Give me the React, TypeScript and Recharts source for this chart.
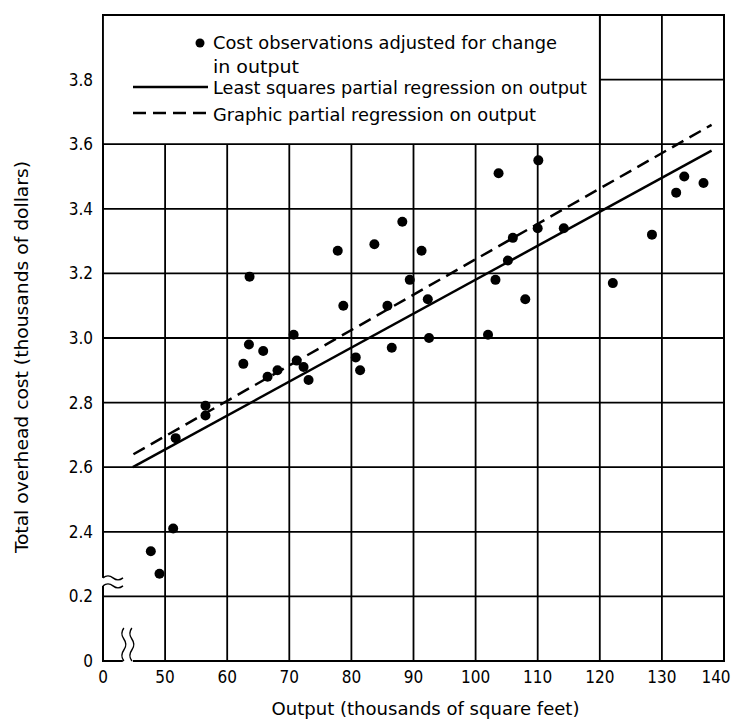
import React from "react";
import {
  ComposedChart, Scatter, Line, XAxis, YAxis, CartesianGrid,
  ReferenceArea, ReferenceDot, Label,
} from "recharts";

// cost observations (output in thousands of sq ft, cost in thousands of $)
const obsOutput = [
  47.7, 49.1, 51.3, 51.7, 56.5, 56.5, 62.6, 63.5, 63.6, 65.8,
  66.5, 68.1, 70.7, 71.2, 72.3, 73.1, 77.8, 78.7, 80.7, 81.4,
  83.7, 85.8, 86.5, 88.2, 89.4, 91.3, 92.3, 92.5, 102.0, 103.2,
  103.7, 105.2, 106.0, 108.0, 110.0, 110.1, 114.2, 122.1, 128.4, 132.3,
  133.6, 136.7,
];
const obsCost = [
  2.34, 2.27, 2.41, 2.69, 2.79, 2.76, 2.92, 2.98, 3.19, 2.96,
  2.88, 2.9, 3.01, 2.93, 2.91, 2.87, 3.27, 3.1, 2.94, 2.9,
  3.29, 3.1, 2.97, 3.36, 3.18, 3.27, 3.12, 3.0, 3.01, 3.18,
  3.51, 3.24, 3.31, 3.12, 3.34, 3.55, 3.34, 3.17, 3.32, 3.45,
  3.5, 3.48,
];

// regression lines (end points)
const lsOutput = [44.8, 138];
const lsCost = [2.6, 3.58];
const graphicOutput = [44.9, 138];
const graphicCost = [2.64, 3.66];

// broken axes: 40 on the x scale is labelled 0, 2.0 / 2.2 on the y scale are labelled 0 / 0.2
const xTicks = [40, 50, 60, 70, 80, 90, 100, 110, 120, 130, 140];
const xTickLabels = ["0", "50", "60", "70", "80", "90", "100", "110", "120", "130", "140"];
const yTicks = [2.0, 2.2, 2.4, 2.6, 2.8, 3.0, 3.2, 3.4, 3.6, 3.8];
const yTickLabels = ["0", "0.2", "2.4", "2.6", "2.8", "3.0", "3.2", "3.4", "3.6", "3.8"];

const legendLabels = [
  "Cost observations adjusted for change",
  "in output",
  "Least squares partial regression on output",
  "Graphic partial regression on output",
];

const FONT = "'DejaVu Sans Condensed', 'Liberation Sans Narrow', 'DejaVu Sans', sans-serif";
const TICK = { fill: "#000", fontSize: 17, fontFamily: FONT };

const points = obsOutput.map((x, i) => ({ x, y: obsCost[i] }));
const lsLine = lsOutput.map((x, i) => ({ x, y: lsCost[i] }));
const graphicLine = graphicOutput.map((x, i) => ({ x, y: graphicCost[i] }));

function XTick(props: any) {
  const { x, y, payload } = props;
  const v = payload.value;
  const i = xTicks.indexOf(v);
  // last label sits a little left of its line so it stays on the page
  const shift = i === xTicks.length - 1 ? -8 : 0;
  return (
    <text x={x + shift} y={y} dy="0.71em" textAnchor="middle" {...TICK}>
      {i >= 0 ? xTickLabels[i] : String(v)}
    </text>
  );
}

function LegendBox(props: any) {
  const vb = props.viewBox;
  if (!vb) return null;
  const { x, y } = vb;
  const txt = { fontFamily: FONT, fontSize: 17, fill: "#000" };
  return (
    <g>
      <circle cx={x + 97} cy={y + 28} r={4.5} fill="#000" />
      <text x={x + 110} y={y + 28} dominantBaseline="central" textLength={344} lengthAdjust="spacingAndGlyphs" {...txt}>
        {legendLabels[0]}
      </text>
      <text x={x + 110} y={y + 52} dominantBaseline="central" textLength={86} lengthAdjust="spacingAndGlyphs" {...txt}>
        {legendLabels[1]}
      </text>
      <line x1={x + 30} x2={x + 105} y1={y + 72} y2={y + 72} stroke="#000" strokeWidth={2.5} />
      <text x={x + 110} y={y + 73} dominantBaseline="central" textLength={374} lengthAdjust="spacingAndGlyphs" {...txt}>
        {legendLabels[2]}
      </text>
      <line x1={x + 30} x2={x + 105} y1={y + 98} y2={y + 98} stroke="#000" strokeWidth={2.5} strokeDasharray="13 7" />
      <text x={x + 110} y={y + 100} dominantBaseline="central" textLength={323} lengthAdjust="spacingAndGlyphs" {...txt}>
        {legendLabels[3]}
      </text>
    </g>
  );
}

// wavy break on the cost axis
function LeftBreak(p: any) {
  const { cx, cy } = p;
  return (
    <g fill="none" stroke="#000" strokeWidth={1.4}>
      <rect x={cx - 3} y={cy - 4} width={6} height={8} fill="#fff" stroke="none" />
      <path d={`M${cx} ${cy - 4} q5 -4 10 0 t10 0`} />
      <path d={`M${cx} ${cy + 4} q5 -4 10 0 t10 0`} />
    </g>
  );
}

// wavy break on the output axis
function BottomBreak(p: any) {
  const { cx, cy } = p;
  return (
    <g fill="none" stroke="#000" strokeWidth={1.4}>
      <rect x={cx - 5} y={cy - 3} width={10} height={6} fill="#fff" stroke="none" />
      <path d={`M${cx - 4} ${cy} q-4 -5.5 0 -11 t0 -11 t0 -11`} />
      <path d={`M${cx + 4} ${cy} q-4 -5.5 0 -11 t0 -11 t0 -11`} />
    </g>
  );
}

function XTitle(props: any) {
  const vb = props.viewBox;
  if (!vb) return null;
  return (
    <text x={vb.x + vb.width / 2 + 12} y={vb.y + 48} textAnchor="middle" dominantBaseline="central"
      fontFamily={FONT} fontSize={17} fill="#000" textLength={308} lengthAdjust="spacingAndGlyphs">
      Output (thousands of square feet)
    </text>
  );
}

function YTitle(props: any) {
  const vb = props.viewBox;
  if (!vb) return null;
  const cx = 22;
  const cy = 357;
  return (
    <text x={cx} y={cy} transform={`rotate(-90 ${cx} ${cy})`} textAnchor="middle" dominantBaseline="central"
      fontFamily={FONT} fontSize={17} fill="#000" textLength={392} lengthAdjust="spacingAndGlyphs">
      Total overhead cost (thousands of dollars)
    </text>
  );
}

export default function App() {
  return (
    <div style={{ position: "absolute", left: 0, top: 0, background: "#fff" }}>
      <ComposedChart width={737} height={724} margin={{ top: 15, right: 13, bottom: 0, left: 0 }}>
        <CartesianGrid stroke="#000" strokeWidth={1.8} />
        <XAxis
          type="number" dataKey="x" domain={[40, 140]} ticks={xTicks} allowDataOverflow
          tick={<XTick />} axisLine={false} tickLine={false} tickSize={0} tickMargin={10} height={63}
        >
          <Label content={<XTitle />} />
        </XAxis>
        <YAxis
          type="number" dataKey="y" domain={[2, 4]} ticks={yTicks} allowDataOverflow
          tickFormatter={(v) => yTickLabels[yTicks.indexOf(v)] ?? String(v)}
          tick={TICK} axisLine={false} tickLine={false} tickSize={0} tickMargin={10} width={103}
        >
          <Label content={<YTitle />} />
        </YAxis>
        <ReferenceArea x1={40} x2={140} y1={2} y2={4} fill="none" stroke="#000" strokeWidth={2} />
        <ReferenceArea
          x1={40} x2={120} y1={3.6} y2={4} fill="#fff" fillOpacity={1} stroke="#000" strokeWidth={1.8}
          label={<LegendBox />}
        />
        <Line data={lsLine} dataKey="y" type="linear" stroke="#000" strokeWidth={2.5} dot={false} isAnimationActive={false} />
        <Line data={graphicLine} dataKey="y" type="linear" stroke="#000" strokeWidth={2.5} strokeDasharray="13 7" dot={false} isAnimationActive={false} />
        <Scatter
          data={points} dataKey="y" isAnimationActive={false}
          shape={(p: any) => <circle cx={p.cx} cy={p.cy} r={5} fill="#000" />}
        />
        <ReferenceDot x={40} y={2.245} r={1} shape={(p: any) => <LeftBreak {...p} />} />
        <ReferenceDot x={44} y={2} r={1} shape={(p: any) => <BottomBreak {...p} />} />
      </ComposedChart>
    </div>
  );
}
